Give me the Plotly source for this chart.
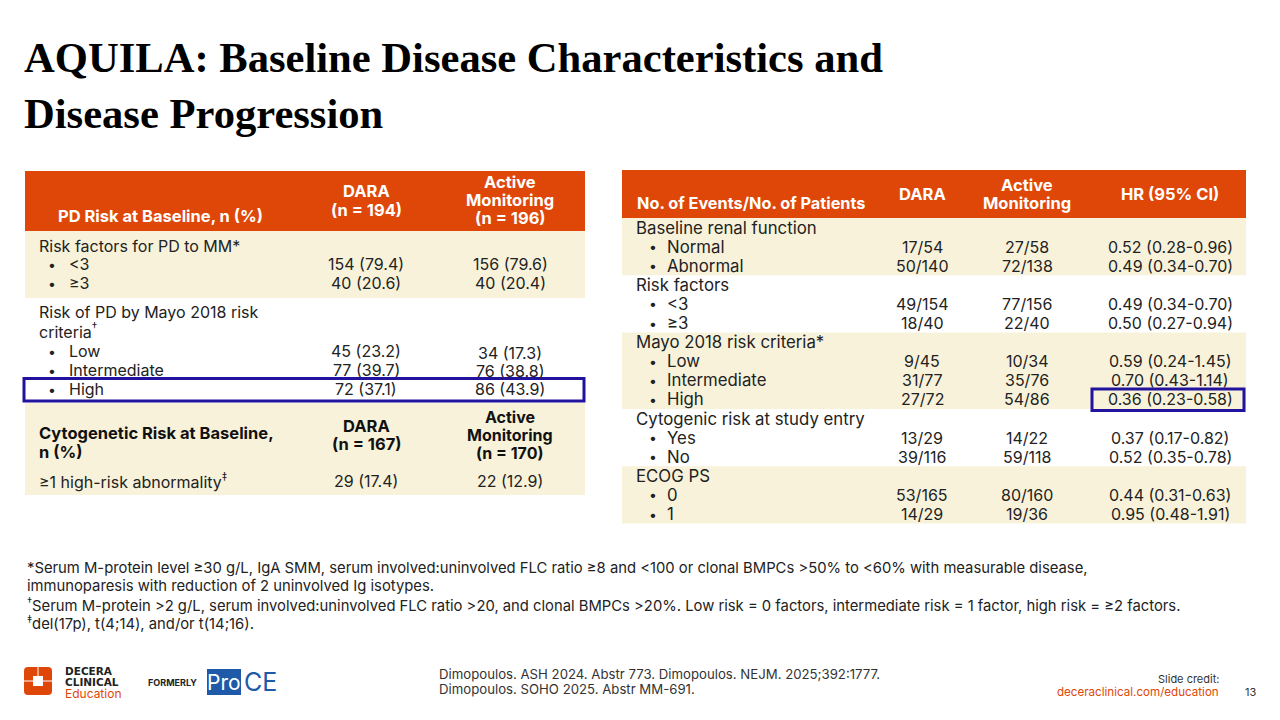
import plotly.graph_objects as go

BODY = "Inter, Open Sans, sans-serif"
TITLE = "Liberation Serif, Times New Roman, serif"
ORANGE = "#DF4709"
CREAM = "#F8F2DA"
BLUE = "#22139F"
INK = "#222222"

# ---- left table: PD risk at baseline, n (%) ----
rf_cats = ["<3", "≥3"]
rf_dara_n = [154, 40]
rf_dara_pct = [79.4, 20.6]
rf_am_n = [156, 40]
rf_am_pct = [79.6, 20.4]

mayo_cats = ["Low", "Intermediate", "High"]
mayo_dara_n = [45, 77, 72]
mayo_dara_pct = [23.2, 39.7, 37.1]
mayo_am_n = [34, 76, 86]
mayo_am_pct = [17.3, 38.8, 43.9]

cyto_label = "≥1 high-risk abnormality<sup>‡</sup>"
cyto_dara_n, cyto_dara_pct = 29, 17.4
cyto_am_n, cyto_am_pct = 22, 12.9

arm_n_pd = [194, 196]
arm_n_cyto = [167, 170]

# ---- right table: events / patients and HR ----
groups = ["Baseline renal function", "Risk factors", "Mayo 2018 risk criteria*",
          "Cytogenic risk at study entry", "ECOG PS"]
group_sizes = [2, 2, 3, 2, 2]
ev_cats = ["Normal", "Abnormal", "<3", "≥3", "Low", "Intermediate", "High",
           "Yes", "No", "0", "1"]
dara_events = [17, 50, 49, 18, 9, 31, 27, 13, 39, 53, 14]
dara_pts = [54, 140, 154, 40, 45, 77, 72, 29, 116, 165, 29]
am_events = [27, 72, 77, 22, 10, 35, 54, 14, 59, 80, 19]
am_pts = [58, 138, 156, 40, 34, 76, 86, 22, 118, 160, 36]
hr = [0.52, 0.49, 0.49, 0.50, 0.59, 0.70, 0.36, 0.37, 0.52, 0.44, 0.95]
hr_lo = [0.28, 0.34, 0.34, 0.27, 0.24, 0.43, 0.23, 0.17, 0.35, 0.31, 0.48]
hr_hi = [0.96, 0.70, 0.70, 0.94, 1.45, 1.14, 0.58, 0.82, 0.78, 0.63, 1.91]

footnotes = [
    "*Serum M-protein level ≥30 g/L, IgA SMM, serum involved:uninvolved FLC ratio ≥8 and <100 or clonal BMPCs >50% to <60% with measurable disease,",
    "immunoparesis with reduction of 2 uninvolved Ig isotypes.",
    "<sup>†</sup>Serum M-protein >2 g/L, serum involved:uninvolved FLC ratio >20, and clonal BMPCs >20%. Low risk = 0 factors, intermediate risk = 1 factor, high risk = ≥2 factors.",
    "<sup>‡</sup>del(17p), t(4;14), and/or t(14;16).",
]
refs = ["Dimopoulos. ASH 2024. Abstr 773. Dimopoulos. NEJM. 2025;392:1777.",
        "Dimopoulos. SOHO 2025. Abstr MM-691."]

fig = go.Figure()


def txt(x, y, s, size=16, color=INK, anchor="left", family=BODY):
    fig.add_annotation(x=x, y=y, xref="x", yref="y", text=s, showarrow=False,
                       xanchor=anchor, yanchor="middle",
                       font=dict(size=size, color=color, family=family))


def box(x0, y0, x1, y1, fill=None, line=None, width=0):
    fig.add_shape(type="rect", xref="x", yref="y", x0=x0, y0=y0, x1=x1, y1=y1,
                  fillcolor=fill, line=dict(color=line or "rgba(0,0,0,0)", width=width),
                  layer="below" if fill else "above")


def npct(n, p):
    return f"{n} ({p:.1f})"


# title
txt(22, 57, "<b>AQUILA: Baseline Disease Characteristics and</b>", 42.6, "#000", family=TITLE)
txt(22, 113, "<b>Disease Progression</b>", 42.6, "#000", family=TITLE)

# ---------- left table ----------
LX0, LX1 = 25, 585
C1, C2 = 366, 510
box(LX0, 171, LX1, 231, ORANGE)
txt(160, 216, "<b>PD Risk at Baseline, n (%)</b>", 16.5, "white", "center")
txt(C1, 191, "<b>DARA</b>", 16.5, "white", "center")
txt(C1, 210, f"<b>(n = {arm_n_pd[0]})</b>", 16.5, "white", "center")
txt(C2, 182, "<b>Active</b>", 16.5, "white", "center")
txt(C2, 200, "<b>Monitoring</b>", 16.5, "white", "center")
txt(C2, 218, f"<b>(n = {arm_n_pd[1]})</b>", 16.5, "white", "center")

box(LX0, 231, LX1, 298, CREAM)
txt(37, 246, "Risk factors for PD to MM*")
for i, c in enumerate(rf_cats):
    y = 264 + 19 * i
    txt(52, y, "•", 14, anchor="center")
    txt(67, y, c)
    txt(C1, y, npct(rf_dara_n[i], rf_dara_pct[i]), anchor="center")
    txt(C2, y, npct(rf_am_n[i], rf_am_pct[i]), anchor="center")

txt(37, 312, "Risk of PD by Mayo 2018 risk")
txt(37, 331, "criteria<sup>†</sup>")
for i, c in enumerate(mayo_cats):
    y = 351 + 19 * i
    txt(52, y, "•", 14, anchor="center")
    txt(67, y, c)
    txt(C1, y, npct(mayo_dara_n[i], mayo_dara_pct[i]), anchor="center")
    txt(C2, y + 2 - i, npct(mayo_am_n[i], mayo_am_pct[i]), anchor="center")
box(24, 378.5, 584, 401, None, BLUE, 3)

box(LX0, 403, LX1, 495, CREAM)
txt(37, 433, "<b>Cytogenetic Risk at Baseline,</b>", 16.5, "#111")
txt(37, 452, "<b>n (%)</b>", 16.5, "#111")
txt(C1, 426, "<b>DARA</b>", 16.5, "#111", "center")
txt(C1, 444, f"<b>(n = {arm_n_cyto[0]})</b>", 16.5, "#111", "center")
txt(C2, 417, "<b>Active</b>", 16, "#111", "center")
txt(C2, 434.5, "<b>Monitoring</b>", 16, "#111", "center")
txt(C2, 452.5, f"<b>(n = {arm_n_cyto[1]})</b>", 16, "#111", "center")
txt(37, 481, cyto_label)
txt(C1, 481, npct(cyto_dara_n, cyto_dara_pct), anchor="center")
txt(C2, 481, npct(cyto_am_n, cyto_am_pct), anchor="center")

# ---------- right table ----------
RX0, RX1 = 622, 1246
D1, D2, D3 = 922, 1027, 1170
box(RX0, 170, RX1, 218, ORANGE)
txt(635, 203, "<b>No. of Events/No. of Patients</b>", 16.3, "white")
txt(D1, 194, "<b>DARA</b>", 16.5, "white", "center")
txt(D2, 185, "<b>Active</b>", 16.5, "white", "center")
txt(D2, 203, "<b>Monitoring</b>", 16.5, "white", "center")
txt(D3, 194, "<b>HR (95% CI)</b>", 16.5, "white", "center")

top = 218.0
k = 0
for g, (name, n) in enumerate(zip(groups, group_sizes)):
    h = 19.1 * (n + 1)
    if g % 2 == 0:
        box(RX0, top, RX1, top + h, CREAM)
    txt(634, top + 9.5, name, 16.8)
    for j in range(n):
        y = top + 9.5 + 19.1 * (j + 1)
        txt(653, y, "•", 14, anchor="center")
        txt(665, y, ev_cats[k], 16.8)
        txt(D1, y, f"{dara_events[k]}/{dara_pts[k]}", anchor="center")
        txt(D2, y, f"{am_events[k]}/{am_pts[k]}", anchor="center")
        txt(D3, y, f"{hr[k]:.2f} ({hr_lo[k]:.2f}-{hr_hi[k]:.2f})", anchor="center")
        if ev_cats[k] == "High":
            box(1092, y - 10.5, 1244, y + 11, None, BLUE, 3)
        k += 1
    top += h

# ---------- footnotes ----------
for i, s in enumerate(footnotes):
    txt(25, 568 + 18.3 * i, s, 14.8)

# ---------- footer ----------
# logo mark
fig.add_shape(type="path", xref="x", yref="y", layer="below",
              path="M 28 667 L 48 667 Q 52 667 52 671 L 52 691 Q 52 695 48 695 "
                   "L 28 695 Q 24 695 24 691 L 24 671 Q 24 667 28 667 Z",
              fillcolor=ORANGE, line=dict(width=0))
box(33, 676, 43, 686, "white")
box(37.5, 667, 38.5, 676, "white")
box(24, 680.5, 33, 681.5, "white")
box(43, 680.5, 52, 681.5, "white")
txt(63, 671, "<b>DECERA</b>", 10.5, INK, family="DejaVu Sans")
txt(63, 682, "<b>CLINICAL</b>", 10.5, INK, family="DejaVu Sans")
txt(63, 693, "Education", 12, ORANGE)
txt(146, 682, "<b>FORMERLY</b>", 9, INK)
box(207, 669, 241, 695, "#1E5AA8")
txt(224, 682, "Pro", 21, "white", "center")
txt(242, 682, "CE", 25, "#1E5AA8")

txt(437, 674, refs[0], 13.2, "#333")
txt(437, 689, refs[1], 13.2, "#333")
txt(1221, 679, "Slide credit:", 11, "#333", "right")
txt(1221, 692, "deceraclinical.com/education", 11.6, ORANGE, "right")
txt(1250, 692, "13", 11, "#333", "center")

# the page body adds an 8 px offset; shift the ranges so positions stay in slide pixels
fig.update_layout(
    width=1280, height=720,
    margin=dict(l=0, r=0, t=0, b=0),
    paper_bgcolor="white", plot_bgcolor="white",
    xaxis=dict(range=[8, 1288], visible=False, fixedrange=True),
    yaxis=dict(range=[728, 8], visible=False, fixedrange=True),
    showlegend=False,
)
fig.write_html("out.html")
